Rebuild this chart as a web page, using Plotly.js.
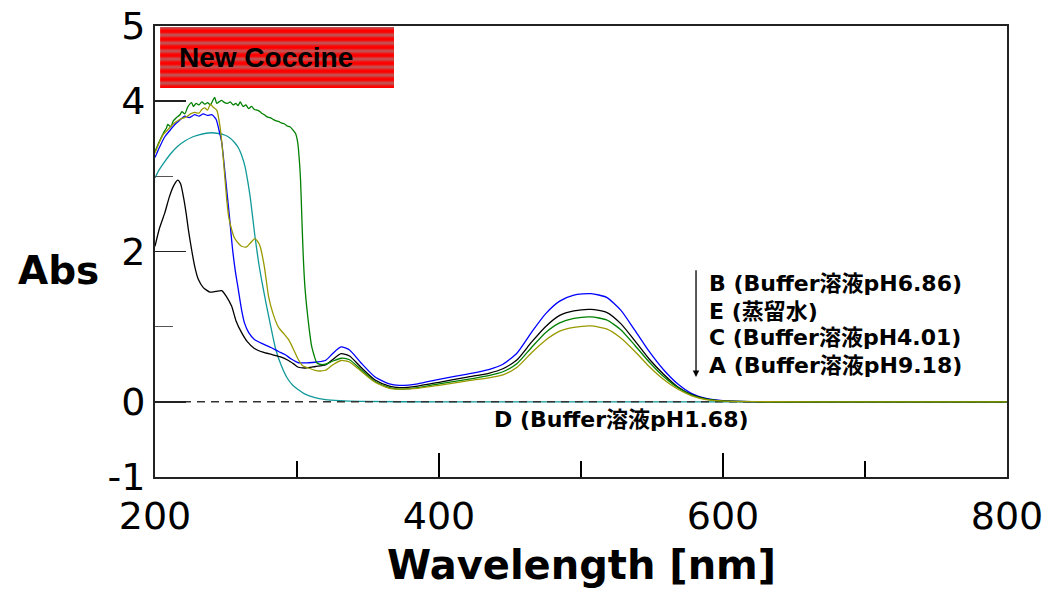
<!DOCTYPE html>
<html>
<head>
<meta charset="utf-8">
<script src="https://cdn.plot.ly/plotly-3.0.1.min.js"></script>
<style>html,body{margin:0;padding:0;background:#fff;}#chart{width:1047px;height:589px;}</style>
</head>
<body>
<div id="chart"></div>
<script>
// ---- Data ----
const seriesNames = ["B (Buffer溶液pH6.86)", "E (蒸留水)", "C (Buffer溶液pH4.01)", "A (Buffer溶液pH9.18)", "D (Buffer溶液pH1.68)"];

const wlVis = [320, 325, 331, 337, 345, 355, 365, 372, 385, 400, 420, 435, 445, 455, 465, 475, 485, 495, 507, 518, 528, 538, 548, 558, 568, 578, 588, 598, 610, 630, 700, 800];

// B: Buffer pH6.86 (blue)
const wlB_uv = [200, 203, 207, 210, 214, 217, 221, 224, 228, 231, 234, 237, 240, 243, 245, 247, 249, 250.5, 252.5, 254.5, 256.5, 258.7, 261, 263, 266, 270, 276, 282, 287, 291.5, 296, 301, 308, 314];
const absB_uv = [3.25, 3.38, 3.53, 3.60, 3.69, 3.74, 3.80, 3.78, 3.82, 3.80, 3.83, 3.81, 3.82, 3.76, 3.62, 3.45, 3.10, 2.82, 2.45, 2.05, 1.75, 1.49, 1.22, 1.05, 0.92, 0.83, 0.77, 0.72, 0.67, 0.63, 0.57, 0.52, 0.52, 0.53];
const absB_vis = [0.55, 0.64, 0.73, 0.69, 0.52, 0.33, 0.24, 0.22, 0.24, 0.30, 0.37, 0.43, 0.50, 0.65, 0.92, 1.17, 1.34, 1.42, 1.44, 1.39, 1.22, 0.95, 0.67, 0.43, 0.24, 0.11, 0.045, 0.018, 0.006, 0.001, 0, 0];

// E: distilled water (black)
const wlE_uv = [200, 203, 207, 210, 213, 216, 218, 220, 222, 223.5, 226, 228, 230.5, 234, 238.7, 243, 247, 250, 254, 257, 261, 265, 270, 276, 282, 288, 294, 298, 301, 306, 313];
const absE_uv = [2.07, 2.30, 2.52, 2.72, 2.87, 2.95, 2.90, 2.73, 2.50, 2.29, 2.00, 1.80, 1.63, 1.52, 1.46, 1.47, 1.48, 1.41, 1.27, 1.08, 0.92, 0.80, 0.71, 0.66, 0.63, 0.60, 0.55, 0.50, 0.46, 0.45, 0.47];
const absE_vis = [0.49, 0.56, 0.64, 0.61, 0.46, 0.29, 0.21, 0.19, 0.21, 0.26, 0.33, 0.38, 0.44, 0.56, 0.79, 1.00, 1.15, 1.21, 1.23, 1.19, 1.04, 0.81, 0.57, 0.37, 0.20, 0.095, 0.04, 0.015, 0.005, 0.001, 0, 0];

// C: Buffer pH4.01 (green)
const wlC_uv = [200, 202, 204, 206, 208, 209, 211, 213, 215, 217.6, 219, 221, 223, 225.8, 227, 229, 231, 233, 235, 237, 239, 240.5, 242, 243.5, 245, 247, 249, 251, 253, 255, 257, 258.5, 260, 262, 264, 266, 268, 270, 272, 274, 275, 277, 279, 281, 283, 285, 287, 289, 291, 293, 295, 297, 299, 300.5, 301.5, 302.5, 303.5, 304.4, 305.5, 306.8, 308.5, 310.3, 312, 313.9, 316];
const absC_uv = [3.33, 3.42, 3.50, 3.58, 3.64, 3.69, 3.66, 3.74, 3.78, 3.82, 3.86, 3.83, 3.92, 3.98, 3.93, 3.97, 3.95, 3.99, 3.96, 3.98, 3.95, 4.00, 4.05, 3.97, 3.99, 4.01, 3.98, 3.97, 3.99, 3.95, 3.97, 3.94, 3.99, 3.93, 3.95, 3.90, 3.93, 3.89, 3.88, 3.86, 3.84, 3.82, 3.79, 3.78, 3.76, 3.74, 3.73, 3.71, 3.70, 3.67, 3.66, 3.62, 3.57, 3.45, 3.25, 2.95, 2.40, 1.94, 1.55, 1.27, 0.98, 0.74, 0.62, 0.52, 0.50];
const absC_vis = [0.50, 0.54, 0.58, 0.56, 0.43, 0.27, 0.19, 0.17, 0.19, 0.24, 0.30, 0.35, 0.40, 0.51, 0.72, 0.92, 1.05, 1.11, 1.13, 1.09, 0.96, 0.75, 0.53, 0.34, 0.19, 0.09, 0.035, 0.014, 0.005, 0.001, 0, 0];

// A: Buffer pH9.18 (olive)
const wlA_uv = [200, 203, 206, 209, 213, 216, 219, 222, 225, 228, 231, 233, 235, 237, 239, 241, 243.5, 245.8, 248, 250.5, 252, 254, 256, 258.7, 261, 264.5, 267, 270.4, 272, 274, 277, 280, 283, 287, 291, 294, 297, 301, 304, 308, 312.7, 316];
const absA_uv = [3.31, 3.45, 3.56, 3.62, 3.70, 3.74, 3.77, 3.79, 3.83, 3.85, 3.84, 3.89, 3.91, 3.88, 3.96, 3.92, 3.88, 3.66, 3.26, 2.69, 2.45, 2.29, 2.18, 2.11, 2.07, 2.06, 2.11, 2.17, 2.14, 2.07, 1.80, 1.40, 1.18, 0.99, 0.90, 0.83, 0.72, 0.56, 0.48, 0.45, 0.42, 0.41];
const absA_vis = [0.42, 0.49, 0.55, 0.53, 0.41, 0.26, 0.18, 0.17, 0.18, 0.22, 0.28, 0.32, 0.36, 0.46, 0.65, 0.82, 0.94, 0.99, 1.01, 0.97, 0.85, 0.67, 0.47, 0.30, 0.17, 0.08, 0.03, 0.012, 0.004, 0.001, 0, 0];

// D: Buffer pH1.68 (teal)
const wlD = [200, 203, 207, 211, 216, 221, 226, 231, 235, 240, 244.6, 249, 252.8, 256, 258.7, 261, 263.4, 265, 267, 269, 270.4, 273, 275, 278, 281, 285, 289, 293, 297, 301, 305, 312, 320, 330, 345, 400, 500, 600, 700, 800];
const absD = [2.98, 3.09, 3.20, 3.30, 3.40, 3.47, 3.52, 3.55, 3.57, 3.58, 3.57, 3.55, 3.51, 3.45, 3.38, 3.28, 3.13, 2.97, 2.73, 2.42, 2.20, 1.85, 1.63, 1.33, 1.05, 0.70, 0.48, 0.32, 0.22, 0.16, 0.11, 0.06, 0.03, 0.015, 0.005, 0, 0, 0, 0, 0];

const wlBaseline = [200, 800];
const absBaseline = [0, 0];

const xTickVals = [200, 400, 600, 800];
const xMinorVals = [300, 500, 700];
const yTickVals = [-1, 0, 2, 4, 5];
const yTickText = ["-1", "0", "2", "4", "5"];
const yMinorVals = [1, 3];

const colors = {B: "#0000ff", E: "#000000", C: "#008000", A: "#999900", D: "#119999"};

// ---- Build traces ----
function line(x, y, color) {
  return {x: x, y: y, type: "scatter", mode: "lines", hoverinfo: "skip",
          line: {color: color, width: 1.3, shape: "spline", smoothing: 0.6}};
}
const traces = [
  line(wlD, absD, colors.D),
  {x: wlBaseline, y: absBaseline, type: "scatter", mode: "lines", hoverinfo: "skip",
   line: {color: "#333333", width: 1.5, dash: "8px,6px"}},
  line(wlB_uv.concat(wlVis), absB_uv.concat(absB_vis), colors.B),
  line(wlE_uv.concat(wlVis), absE_uv.concat(absE_vis), colors.E),
  line(wlC_uv.concat(wlVis), absC_uv.concat(absC_vis), colors.C),
  line(wlA_uv.concat(wlVis), absA_uv.concat(absA_vis), colors.A)
];

// striped red label box
const svg = "<svg xmlns='http://www.w3.org/2000/svg' width='234' height='61' viewBox='0 0 234 61' preserveAspectRatio='none'>" +
  "<defs><linearGradient id='g' x1='0' y1='0' x2='0' y2='8' gradientUnits='userSpaceOnUse' spreadMethod='repeat'>" +
  "<stop offset='0' stop-color='#bb5c5c'/><stop offset='0.45' stop-color='#ff0000'/><stop offset='0.65' stop-color='#ff0000'/><stop offset='1' stop-color='#bb5c5c'/>" +
  "</linearGradient></defs><rect x='0' y='0' width='234' height='61' fill='url(#g)'/></svg>";
const svgUri = "data:image/svg+xml;charset=utf-8," + encodeURIComponent(svg);

const labelFont = {family: "DejaVu Sans, Noto Sans CJK JP, sans-serif", size: 22, color: "#000"};

const annotations = [
  {x: 588.5, y: 1.574, xref: "x", yref: "y", text: "<b>" + seriesNames[0] + "</b>", showarrow: false, xanchor: "left", yanchor: "middle", font: labelFont},
  {x: 588.5, y: 1.206, xref: "x", yref: "y", text: "<b>" + seriesNames[1] + "</b>", showarrow: false, xanchor: "left", yanchor: "middle", font: labelFont},
  {x: 588.5, y: 0.853, xref: "x", yref: "y", text: "<b>" + seriesNames[2] + "</b>", showarrow: false, xanchor: "left", yanchor: "middle", font: labelFont},
  {x: 588.5, y: 0.485, xref: "x", yref: "y", text: "<b>" + seriesNames[3] + "</b>", showarrow: false, xanchor: "left", yanchor: "middle", font: labelFont},
  {x: 437.5, y: -0.232, xref: "x", yref: "y", text: "<b>" + seriesNames[4] + "</b>", showarrow: false, xanchor: "left", yanchor: "middle", font: labelFont},
  // downward arrow
  {x: 581, y: 0.33, ax: 581, ay: 1.77, xref: "x", yref: "y", axref: "x", ayref: "y", text: "", showarrow: true,
   arrowhead: 2, arrowsize: 1, arrowwidth: 1.3, arrowcolor: "#000"},
  // New Coccine label
  {x: 0.1308, y: 0.9302, xref: "paper", yref: "paper", text: "<b>New Coccine</b>", showarrow: false, xanchor: "center", yanchor: "middle",
   font: {family: "Liberation Sans, Arial, sans-serif", size: 28, color: "#000"}},
  // Y axis title
  {x: -0.1127, y: 0.4568, xref: "paper", yref: "paper", text: "<b>Abs</b>", showarrow: false, xanchor: "center", yanchor: "middle",
   font: {family: "DejaVu Sans, sans-serif", size: 39, color: "#000"}},
  // X axis title
  {x: 0.5006, y: -0.195, xref: "paper", yref: "paper", text: "<b>Wavelength [nm]</b>", showarrow: false, xanchor: "center", yanchor: "middle",
   font: {family: "DejaVu Sans, sans-serif", size: 40, color: "#000"}}
];

const tickFont = {family: "DejaVu Sans, sans-serif", size: 38, color: "#000"};

const layout = {
  width: 1047, height: 589,
  margin: {l: 155, r: 40, t: 26, b: 112, pad: 0},
  paper_bgcolor: "#ffffff", plot_bgcolor: "#ffffff",
  showlegend: false,
  xaxis: {
    range: [200, 800], tickmode: "array", tickvals: xTickVals,
    ticks: "inside", ticklen: 24, tickwidth: 1.3, tickcolor: "#000", ticklabelstandoff: 4,
    minor: {tickmode: "array", tickvals: xMinorVals, ticks: "inside", ticklen: 16, tickwidth: 1.3, tickcolor: "#000", showgrid: false},
    showline: true, mirror: true, linecolor: "#222", linewidth: 2,
    showgrid: false, zeroline: false, tickfont: tickFont, fixedrange: true
  },
  yaxis: {
    range: [-1, 5], tickmode: "array", tickvals: yTickVals, ticktext: yTickText,
    ticks: "inside", ticklen: 31, tickwidth: 1.5, tickcolor: "#222",
    minor: {tickmode: "array", tickvals: yMinorVals, ticks: "inside", ticklen: 18, tickwidth: 1.5, tickcolor: "#555", showgrid: false},
    showline: true, mirror: true, linecolor: "#222", linewidth: 2,
    showgrid: false, zeroline: false, tickfont: tickFont, fixedrange: true
  },
  images: [{source: svgUri, xref: "paper", yref: "paper", x: 0.006, y: 0.998, sizex: 0.2746, sizey: 0.1355,
            xanchor: "left", yanchor: "top", sizing: "stretch", layer: "above"}],
  annotations: annotations
};

Plotly.newPlot("chart", traces, layout, {displayModeBar: false, staticPlot: true});
</script>
</body>
</html>
